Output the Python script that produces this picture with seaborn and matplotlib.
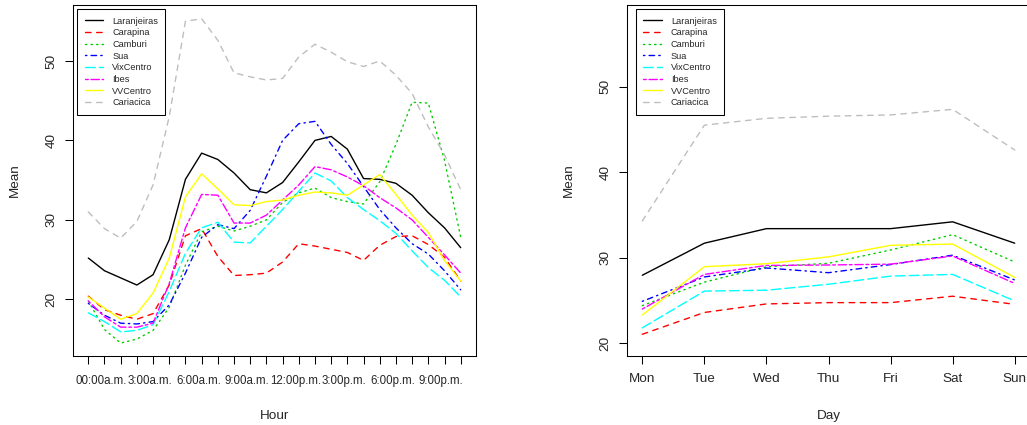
import matplotlib
matplotlib.use("Agg")
import matplotlib.pyplot as plt
import seaborn as sns
import numpy as np
import pandas as pd

# ---------------- data ----------------
stations = ["Laranjeiras", "Carapina", "Camburi", "Sua", "VixCentro", "Ibes", "VVCentro", "Cariacica"]

hours = list(range(24))
hour_tick_labels = ["00:00a.m.", "3:00a.m.", "6:00a.m.", "9:00a.m.",
                    "12:00p.m.", "3:00p.m.", "6:00p.m.", "9:00p.m."]

laranjeiras_h = [25.2, 23.6, 22.7, 21.8, 23.1, 27.5, 35.1, 38.4, 37.6, 35.9, 33.8, 33.4,
                 34.7, 37.3, 40.0, 40.5, 38.9, 35.2, 35.1, 34.6, 33.1, 30.9, 29.0, 26.5]
carapina_h = [20.4, 18.7, 18.0, 17.5, 18.2, 21.8, 28.0, 28.9, 25.4, 23.0, 23.1, 23.3,
              24.7, 27.0, 26.7, 26.3, 25.9, 24.9, 26.8, 27.9, 28.0, 26.9, 25.3, 22.3]
camburi_h = [19.8, 16.2, 14.5, 15.0, 16.1, 19.0, 24.3, 28.5, 29.2, 28.6, 29.2, 30.0,
             32.2, 33.4, 34.0, 32.8, 32.3, 32.0, 34.8, 39.5, 44.8, 44.7, 37.5, 27.8]
sua_h = [19.5, 18.0, 17.0, 16.9, 17.2, 19.3, 23.3, 27.8, 29.4, 28.9, 31.2, 35.5,
         40.0, 42.1, 42.4, 39.5, 37.1, 34.2, 31.3, 29.0, 27.0, 25.7, 23.6, 21.2]
vixcentro_h = [18.3, 17.2, 15.9, 16.1, 16.8, 21.0, 25.8, 29.0, 29.7, 27.2, 27.1, 29.2,
               31.3, 33.6, 35.9, 34.9, 32.8, 31.3, 29.9, 28.3, 26.1, 24.0, 22.4, 20.3]
ibes_h = [19.8, 17.8, 16.5, 16.5, 17.0, 22.0, 29.0, 33.2, 33.1, 29.6, 29.6, 30.6,
          32.5, 34.4, 36.7, 36.3, 35.4, 34.3, 32.8, 31.5, 30.0, 27.8, 25.6, 23.3]
vvcentro_h = [20.3, 18.9, 17.5, 18.2, 20.8, 25.2, 32.9, 35.8, 33.9, 31.9, 31.8, 32.3,
              32.5, 33.1, 33.5, 33.4, 33.1, 34.4, 35.7, 33.2, 30.6, 28.4, 24.9, 22.3]
cariacica_h = [31.0, 28.9, 27.7, 29.8, 34.4, 43.0, 55.0, 55.3, 52.6, 48.5, 48.0, 47.6,
               47.8, 50.5, 52.1, 51.1, 49.9, 49.3, 50.0, 48.2, 45.9, 41.7, 38.2, 33.8]

days = ["Mon", "Tue", "Wed", "Thu", "Fri", "Sat", "Sun"]
laranjeiras_d = [27.95, 31.7, 33.4, 33.4, 33.4, 34.2, 31.7]
carapina_d = [21.05, 23.6, 24.6, 24.75, 24.75, 25.5, 24.55]
camburi_d = [24.4, 27.15, 28.95, 29.35, 30.9, 32.7, 29.5]
sua_d = [24.9, 27.75, 28.8, 28.25, 29.2, 30.3, 27.4]
vixcentro_d = [21.8, 26.1, 26.2, 26.9, 27.85, 28.05, 24.95]
ibes_d = [24.0, 28.05, 29.1, 29.15, 29.25, 30.2, 27.0]
vvcentro_d = [23.3, 28.95, 29.3, 30.1, 31.45, 31.6, 27.7]
cariacica_d = [34.3, 45.5, 46.3, 46.55, 46.7, 47.35, 42.6]

hourly = [laranjeiras_h, carapina_h, camburi_h, sua_h, vixcentro_h, ibes_h, vvcentro_h, cariacica_h]
daily = [laranjeiras_d, carapina_d, camburi_d, sua_d, vixcentro_d, ibes_d, vvcentro_d, cariacica_d]

# ---------------- style ----------------
colors = ["#000000", "#FF0000", "#00CD00", "#0000FF", "#00FFFF", "#FF00FF", "#FFFF00", "#BEBEBE"]
styles = ["-", (0, (4, 4)), (0, (1, 3)), (0, (1, 3, 4, 3)), (0, (7, 3)),
          (0, (2, 2, 6, 2)), "-", (0, (4, 4))]

sns.set_theme(style="white")
plt.rcParams["font.family"] = ["Liberation Sans", "DejaVu Sans"]
plt.rcParams["axes.edgecolor"] = "black"
plt.rcParams["axes.linewidth"] = 0.75

W, H = 1027, 425
fig = plt.figure(figsize=(W / 100, H / 100), dpi=100)
ax1 = fig.add_axes([73.4 / W, 1 - 356 / H, 402.2 / W, 351 / H])
ax2 = fig.add_axes([627.4 / W, 1 - 356 / H, 402.2 / W, 351 / H])

LABEL_FS = 9.7
TICK_LEN = 5.8

def draw(ax, x, series, xlabel):
    for name, vals, c, ls in zip(stations, series, colors, styles):
        df = pd.DataFrame({"x": x, "y": vals})
        sns.lineplot(data=df, x="x", y="y", ax=ax, color=c, linestyle=ls,
                     linewidth=1.0, label=name, dash_capstyle="round")
    ax.set_xlabel(xlabel, fontsize=LABEL_FS, va="center")
    ax.set_ylabel("Mean", fontsize=LABEL_FS, va="center")
    ax.xaxis.set_label_coords(0.5, -0.170)
    ax.yaxis.set_label_coords(-0.1455, 0.5)
    for s in ax.spines.values():
        s.set_visible(True)
        s.set_color("black")
        s.set_linewidth(0.75)
    ax.tick_params(axis="both", which="major", direction="out", length=TICK_LEN,
                   width=0.75, color="black", bottom=True, left=True)
    ax.tick_params(axis="y", labelsize=LABEL_FS, pad=5.7, labelrotation=90)

# ---------------- left: by hour ----------------
draw(ax1, hours, hourly, "Hour")
ax1.set_xlim(-0.92, 23.92)
ax1.set_ylim(12.87, 57.04)
ax1.set_yticks([20, 30, 40, 50])
ax1.set_xticks(hours)
ax1.set_xticklabels([""] * len(hours))
# labels sit slightly right of their tick, as in the original
label_pos = [h + 0.8 for h in range(0, 24, 3)]
ax1.set_xticks(label_pos, minor=True)
ax1.set_xticklabels(hour_tick_labels, minor=True)
ax1.tick_params(axis="x", which="minor", length=0, bottom=True,
                labelsize=8.3, pad=7.6 + TICK_LEN)
for lab in ax1.get_yticklabels():
    lab.set_va("center")

# ---------------- right: by day ----------------
day_pos = list(range(1, 8))
draw(ax2, day_pos, daily, "Day")
ax2.set_xlim(0.76, 7.24)
ax2.set_ylim(18.51, 59.55)
ax2.set_yticks([20, 30, 40, 50])
ax2.set_xticks(day_pos)
ax2.set_xticklabels(days)
ax2.tick_params(axis="x", labelsize=LABEL_FS, pad=6.6)
for lab in ax2.get_yticklabels():
    lab.set_va("center")

# ---------------- legends ----------------
for ax, lx in [(ax1, 0.0097), (ax2, 0.0214)]:
    h, l = ax.get_legend_handles_labels()
    leg = ax.legend(h, l, loc="upper left", bbox_to_anchor=(lx, 0.9877),
                    borderaxespad=0, fontsize=6.6, frameon=True, fancybox=False,
                    shadow=False, framealpha=1, edgecolor="black",
                    borderpad=0.8, labelspacing=0.29, handlelength=2.0,
                    handletextpad=1.0)
    leg.get_frame().set_linewidth(0.75)

fig.savefig("out.png", dpi=100)
